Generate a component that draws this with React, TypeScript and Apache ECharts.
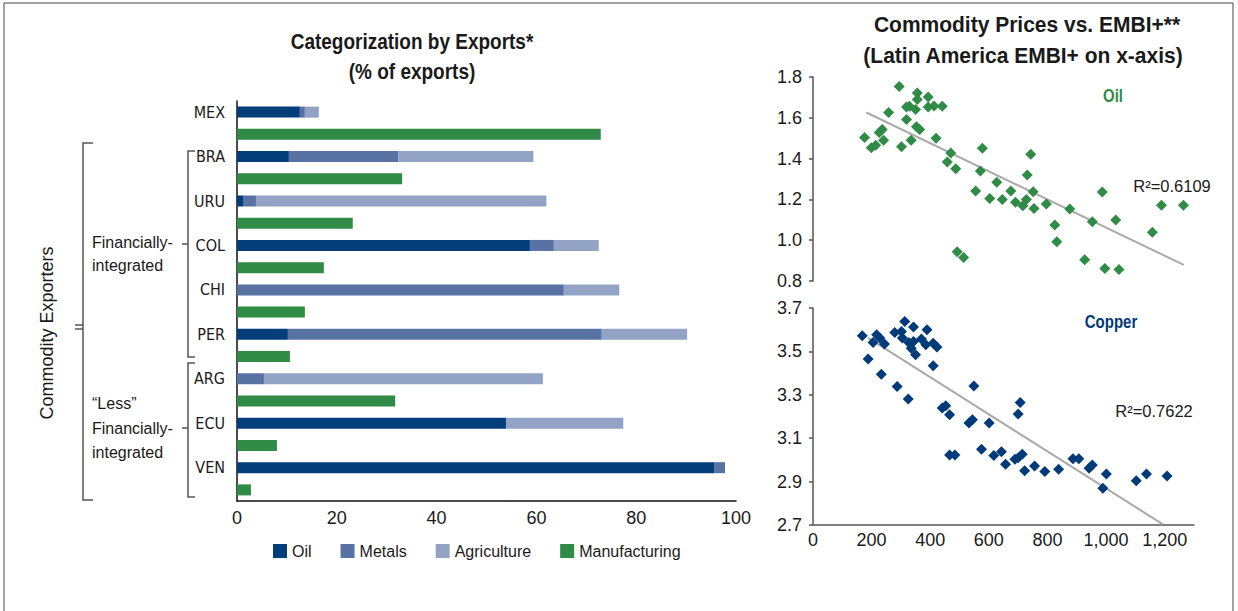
import React, { useEffect, useRef } from "react";
import * as echarts from "echarts";

// ---------- Data ----------
const countries = ["MEX", "BRA", "URU", "COL", "CHI", "PER", "ARG", "ECU", "VEN"];
const oilShare = [12.6, 10.4, 1.2, 58.7, 0, 10.2, 0, 53.9, 95.6];
const metalsShare = [1.0, 21.9, 2.6, 4.8, 65.5, 62.9, 5.4, 0, 2.2];
const agricultureShare = [2.8, 27.1, 58.2, 9.0, 11.1, 17.1, 55.9, 23.5, 0];
const manufacturingShare = [72.9, 33.1, 23.2, 17.4, 13.6, 10.6, 31.7, 8.0, 2.8];
const shareTicks = [0, 20, 40, 60, 80, 100];

// Oil price vs Latin America EMBI+ spread
const oilScatter: [number, number][] = [
  [294, 1.754], [356, 1.722], [356, 1.69], [393, 1.702], [319, 1.653], [329, 1.657],
  [350, 1.641], [393, 1.653], [413, 1.658], [441, 1.657], [258, 1.626], [319, 1.592],
  [353, 1.556], [364, 1.543], [236, 1.543], [226, 1.528], [176, 1.504], [241, 1.49],
  [335, 1.49], [420, 1.5], [199, 1.453], [214, 1.466], [302, 1.458], [578, 1.451],
  [470, 1.428], [458, 1.383], [487, 1.35], [571, 1.339], [627, 1.284], [555, 1.241],
  [603, 1.205], [646, 1.2], [675, 1.241], [492, 0.943], [514, 0.915], [691, 1.186],
  [716, 1.169], [728, 1.2], [743, 1.421], [731, 1.319], [751, 1.238], [754, 1.156],
  [796, 1.177], [876, 1.153], [825, 1.075], [832, 0.992], [953, 1.091], [987, 1.236],
  [1033, 1.099], [927, 0.904], [996, 0.861], [1044, 0.856], [1158, 1.039], [1189, 1.171],
  [1264, 1.171],
];
const oilTrend: [number, number][] = [[182, 1.626], [1265, 0.879]];
const oilR2 = "R²=0.6109";

// Copper price vs Latin America EMBI+ spread
const copperScatter: [number, number][] = [
  [168, 3.572], [217, 3.577], [228, 3.562], [205, 3.541], [244, 3.534], [313, 3.638],
  [343, 3.612], [389, 3.6], [279, 3.587], [302, 3.592], [305, 3.562], [327, 3.541],
  [343, 3.546], [370, 3.557], [385, 3.531], [410, 3.538], [423, 3.52], [335, 3.515],
  [350, 3.485], [188, 3.465], [410, 3.434], [233, 3.395], [287, 3.338], [325, 3.281],
  [549, 3.341], [441, 3.239], [453, 3.249], [466, 3.208], [532, 3.17], [544, 3.185],
  [601, 3.17], [466, 3.023], [484, 3.023], [575, 3.049], [617, 3.02], [643, 3.038],
  [657, 2.98], [707, 3.264], [700, 3.211], [689, 3.003], [700, 3.01], [714, 3.026],
  [722, 2.95], [756, 2.972], [791, 2.946], [838, 2.957], [887, 3.005], [907, 3.005],
  [942, 2.962], [953, 2.977], [1001, 2.935], [989, 2.869], [1103, 2.904], [1138, 2.935],
  [1208, 2.926],
];
const copperTrend: [number, number][] = [[188, 3.562], [1194, 2.703]];
const copperR2 = "R²=0.7622";

const oilPriceTicks = [0.8, 1.0, 1.2, 1.4, 1.6, 1.8];
const copperPriceTicks = [2.7, 2.9, 3.1, 3.3, 3.5, 3.7];
const embiTicks = [0, 200, 400, 600, 800, 1000, 1200];

// ---------- Styling ----------
const COND = "'DejaVu Sans Condensed', 'Liberation Sans', sans-serif";
const SANS = "'Liberation Sans', Arial, sans-serif";
const C_OIL = "#033d7a";
const C_MET = "#5872a3";
const C_AGR = "#93a3c6";
const C_MAN = "#2f8b45";
const C_COPPER = "#003a78";
const TXT = "#1a1a1a";
const GRAY = "#555";

export default function App() {
  const ref = useRef<HTMLDivElement>(null);

  useEffect(() => {
    if (!ref.current) return;
    const chart = echarts.init(ref.current, null, { renderer: "svg" });

    const categories: string[] = [];
    countries.forEach((c) => {
      categories.push(c);
      categories.push(c + "_m");
    });
    const rowsFor = (vals: number[], manuf: boolean) => {
      const out: (number | string)[] = [];
      vals.forEach((v) => {
        if (manuf) {
          out.push("-");
          out.push(v);
        } else {
          out.push(v);
          out.push("-");
        }
      });
      return out;
    };

    const barCommon = {
      type: "bar",
      stack: "exports",
      barWidth: 11,
      xAxisIndex: 0,
      yAxisIndex: 0,
      silent: true,
    };

    const line = (x1: number, y1: number, x2: number, y2: number) => ({
      type: "line",
      shape: { x1, y1, x2, y2 },
      style: { stroke: GRAY, lineWidth: 1.5 },
      silent: true,
    });
    const poly = (pts: number[][]) => ({
      type: "polyline",
      shape: { points: pts },
      style: { stroke: GRAY, lineWidth: 1.5, fill: null },
      silent: true,
    });
    const txt = (
      x: number,
      y: number,
      text: string,
      opts: {
        size?: number;
        weight?: string;
        color?: string;
        align?: string;
        rotation?: number;
        family?: string;
        scaleY?: number;
      } = {}
    ) => ({
      type: "text",
      x,
      y,
      rotation: opts.rotation || 0,
      scaleY: opts.scaleY || 1,
      style: {
        text,
        fill: opts.color || TXT,
        font: `${opts.weight || "normal"} ${opts.size || 16}px ${opts.family || SANS}`,
        textAlign: opts.align || "left",
        textVerticalAlign: "middle",
      },
      silent: true,
    });

    const fmtComma = (v: number) => v.toLocaleString("en-US");

    const option: any = {
      animation: false,
      textStyle: { fontFamily: SANS },
      grid: [
        { left: 237, width: 499, top: 101, height: 400 },
        { left: 813, width: 381, top: 77, height: 204 },
        { left: 813, width: 381, top: 308, height: 217 },
      ],
      legend: {
        data: ["Oil", "Metals", "Agriculture", "Manufacturing"],
        left: 273,
        top: 543,
        padding: 0,
        icon: "rect",
        itemWidth: 14,
        itemHeight: 14,
        itemGap: 29,
        textStyle: { fontSize: 16, color: TXT, fontFamily: SANS },
        selectedMode: false,
      },
      xAxis: [
        {
          gridIndex: 0,
          type: "value",
          min: shareTicks[0],
          max: shareTicks[shareTicks.length - 1],
          interval: 20,
          axisLine: { show: true, lineStyle: { color: "#111", width: 1.5 } },
          axisTick: { show: false },
          splitLine: { show: false },
          axisLabel: { fontSize: 18, color: TXT, margin: 8, fontFamily: SANS },
        },
        {
          gridIndex: 1,
          type: "value",
          min: 0,
          max: 1300,
          interval: 200,
          show: false,
          splitLine: { show: false },
        },
        {
          gridIndex: 2,
          type: "value",
          min: embiTicks[0],
          max: 1300,
          interval: 200,
          axisLine: { show: true, lineStyle: { color: GRAY, width: 1.5 } },
          axisTick: { show: false },
          splitLine: { show: false },
          axisLabel: {
            fontSize: 18,
            color: TXT,
            margin: 6,
            fontFamily: SANS,
            showMaxLabel: false,
            formatter: (v: number) => (embiTicks.includes(v) ? fmtComma(v) : ""),
          },
        },
      ],
      yAxis: [
        {
          gridIndex: 0,
          type: "category",
          data: categories,
          inverse: true,
          axisLine: { show: true, lineStyle: { color: "#111", width: 1.5 } },
          axisTick: { show: false },
          axisLabel: {
            interval: 0,
            fontSize: 16,
            color: TXT,
            margin: 12,
            fontFamily: COND,
            formatter: (v: string) => (v.endsWith("_m") ? "" : v),
          },
        },
        {
          gridIndex: 1,
          type: "value",
          min: oilPriceTicks[0],
          max: oilPriceTicks[oilPriceTicks.length - 1],
          interval: 0.2,
          axisLine: { show: true, lineStyle: { color: GRAY, width: 1.5 } },
          axisTick: { show: true, length: 4, lineStyle: { color: GRAY, width: 1.5 } },
          splitLine: { show: false },
          axisLabel: {
            fontSize: 18,
            color: TXT,
            margin: 11,
            fontFamily: SANS,
            formatter: (v: number) => v.toFixed(1),
          },
        },
        {
          gridIndex: 2,
          type: "value",
          min: copperPriceTicks[0],
          max: copperPriceTicks[copperPriceTicks.length - 1],
          interval: 0.2,
          axisLine: { show: true, lineStyle: { color: GRAY, width: 1.5 } },
          axisTick: { show: true, length: 4, lineStyle: { color: GRAY, width: 1.5 } },
          splitLine: { show: false },
          axisLabel: {
            fontSize: 18,
            color: TXT,
            margin: 11,
            fontFamily: SANS,
            formatter: (v: number) => v.toFixed(1),
          },
        },
      ],
      series: [
        { ...barCommon, name: "Oil", data: rowsFor(oilShare, false), itemStyle: { color: C_OIL } },
        { ...barCommon, name: "Metals", data: rowsFor(metalsShare, false), itemStyle: { color: C_MET } },
        { ...barCommon, name: "Agriculture", data: rowsFor(agricultureShare, false), itemStyle: { color: C_AGR } },
        { ...barCommon, name: "Manufacturing", data: rowsFor(manufacturingShare, true), itemStyle: { color: C_MAN } },
        {
          type: "line",
          name: "Oil trend",
          xAxisIndex: 1,
          yAxisIndex: 1,
          data: oilTrend,
          symbol: "none",
          lineStyle: { color: "#aaaaaa", width: 2 },
          silent: true,
          z: 1,
        },
        {
          type: "scatter",
          name: "Oil price",
          xAxisIndex: 1,
          yAxisIndex: 1,
          data: oilScatter,
          symbol: "diamond",
          symbolSize: 11,
          itemStyle: { color: C_MAN, opacity: 1 },
          silent: true,
          z: 2,
        },
        {
          type: "line",
          name: "Copper trend",
          xAxisIndex: 2,
          yAxisIndex: 2,
          data: copperTrend,
          symbol: "none",
          lineStyle: { color: "#aaaaaa", width: 2 },
          silent: true,
          z: 1,
        },
        {
          type: "scatter",
          name: "Copper price",
          xAxisIndex: 2,
          yAxisIndex: 2,
          data: copperScatter,
          symbol: "diamond",
          symbolSize: 11,
          itemStyle: { color: C_COPPER, opacity: 1 },
          silent: true,
          z: 2,
        },
      ],
      graphic: [
        // frame
        {
          type: "rect",
          shape: { x: 4, y: 3, width: 1229, height: 640 },
          style: { stroke: "#444", lineWidth: 1, fill: null },
          silent: true,
        },
        // titles
        txt(412, 42, "Categorization by Exports*", { size: 19, weight: "bold", align: "center", scaleY: 1.12 }),
        txt(412, 72, "(% of exports)", { size: 19, weight: "bold", align: "center", scaleY: 1.12 }),
        txt(1027, 25, "Commodity Prices vs. EMBI+**", { size: 21, weight: "bold", align: "center", scaleY: 1.05 }),
        txt(1023, 56, "(Latin America EMBI+ on x-axis)", { size: 21, weight: "bold", align: "center", scaleY: 1.05 }),
        // panel labels
        txt(1113, 96, "Oil", { size: 15, weight: "bold", color: C_MAN, align: "center", scaleY: 1.2 }),
        txt(1111, 322, "Copper", { size: 15, weight: "bold", color: C_COPPER, align: "center", scaleY: 1.2 }),
        txt(1172, 186, oilR2, { size: 16.5, align: "center" }),
        txt(1154, 411, copperR2, { size: 16.5, align: "center" }),
        // brackets
        poly([[93, 143], [83, 143], [83, 500], [93, 500]]),
        line(75, 325, 83, 325),
        line(75, 329, 83, 329),
        poly([[195, 151], [188, 151], [188, 357], [195, 357]]),
        line(182, 244, 188, 244),
        poly([[195, 363], [188, 363], [188, 497], [195, 497]]),
        line(182, 428, 188, 428),
        // group labels
        txt(47, 333, "Commodity Exporters", { size: 18, align: "center", rotation: Math.PI / 2 }),
        txt(92, 242, "Financially-", { size: 16 }),
        txt(92, 265, "integrated", { size: 16 }),
        txt(92, 403, "“Less”", { size: 16 }),
        txt(92, 428, "Financially-", { size: 16 }),
        txt(92, 452, "integrated", { size: 16 }),
      ],
    };

    chart.setOption(option);
    return () => chart.dispose();
  }, []);

  return (
    <div
      ref={ref}
      style={{ position: "fixed", left: 0, top: 0, width: 1238, height: 611, background: "#fff" }}
    />
  );
}
